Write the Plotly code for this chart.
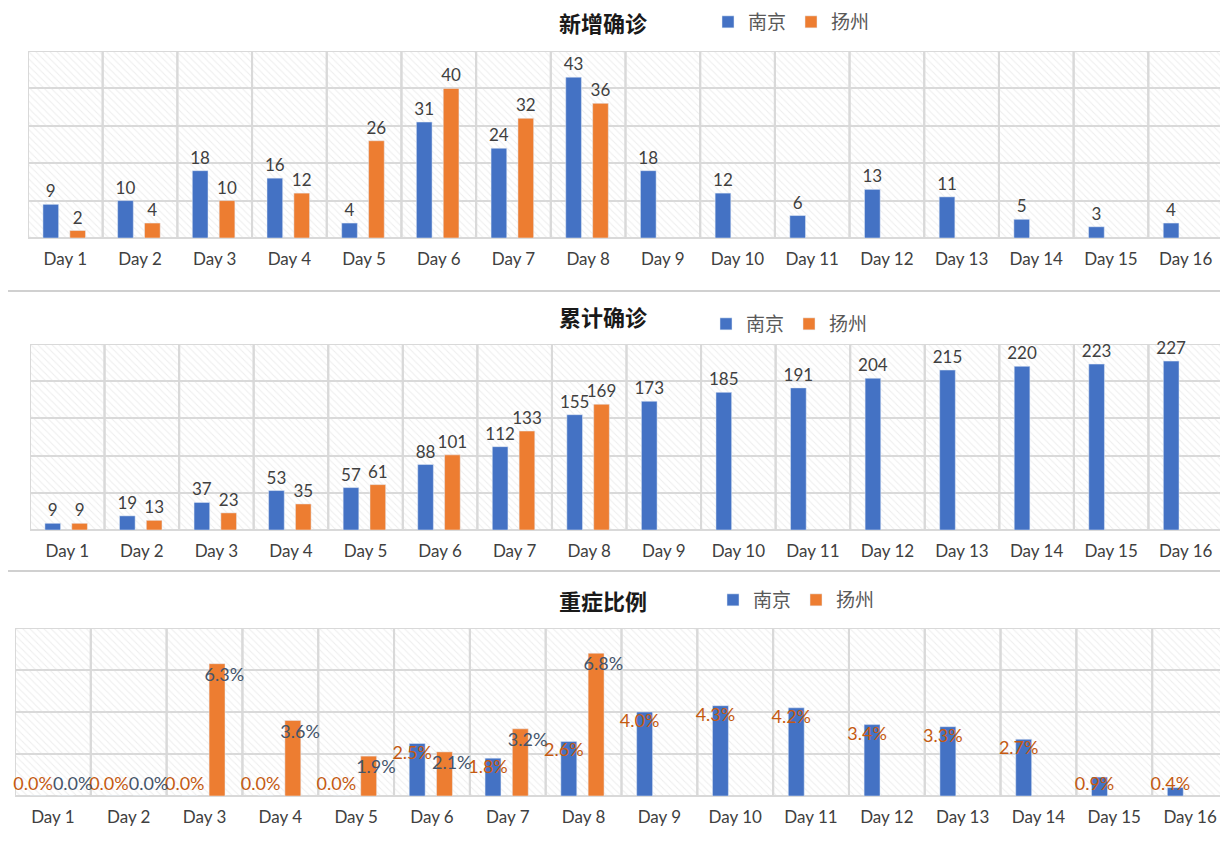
import plotly.graph_objects as go

days = [f"Day {i}" for i in range(1, 17)]
new_nj = [9, 10, 18, 16, 4, 31, 24, 43, 18, 12, 6, 13, 11, 5, 3, 4]
new_yz = [2, 4, 10, 12, 26, 40, 32, 36]
cum_nj = [9, 19, 37, 53, 57, 88, 112, 155, 173, 185, 191, 204, 215, 220, 223, 227]
cum_yz = [9, 13, 23, 35, 61, 101, 133, 169]
sev_nj = [0.0, 0.0, 0.0, 0.0, 0.0, 2.5, 1.8, 2.6, 4.0, 4.3, 4.2, 3.4, 3.3, 2.7, 0.9, 0.4]
sev_yz = [0.0, 0.0, 6.3, 3.6, 1.9, 2.1, 3.2, 6.8]
titles = ["新增确诊", "累计确诊", "重症比例"]
ranges = [50, 250, 8]
dticks = [10, 50, 2]

BLUE = "#4472c4"; ORANGE = "#ed7d31"; TXT = "#404040"
FONT = "Lato"
W, H = 1228, 845
doms = [(43, 230), (336, 522), (620, 788)]
xdoms = [(20, 1215), (22, 1215), (7, 1220)]
title_mid = [14, 308, 592]
leg_y = [14, 316, 592]
leg_x = [700, 698, 705]

fig = go.Figure()
layout = dict(width=W, height=H, margin=dict(l=0, r=0, t=0, b=0, autoexpand=False),
              paper_bgcolor="white", plot_bgcolor="white", barmode="overlay",
              font=dict(family=FONT, color=TXT), annotations=[], shapes=[])

panels = [(new_nj, new_yz), (cum_nj, cum_yz), (sev_nj, sev_yz)]
for i, (nj, yz) in enumerate(panels):
    k = i + 1
    xa = "x" if k == 1 else f"x{k}"
    ya = "y" if k == 1 else f"y{k}"
    lg = "legend" if k == 1 else f"legend{k}"
    top, bot = doms[i]
    layout[f"xaxis{'' if k == 1 else k}"] = dict(
        domain=[xdoms[i][0] / W, xdoms[i][1] / W], anchor=ya, type="category", showgrid=False,
        range=[-0.5, 15.5], tickfont=dict(size=17, color=TXT), ticks="outside",
        tickcolor="rgba(0,0,0,0)", ticklen=6, showline=False, fixedrange=True,
        automargin=False)
    layout[f"yaxis{'' if k == 1 else k}"] = dict(
        domain=[(H - bot) / H, (H - top) / H], anchor=xa, range=[0, ranges[i]],
        dtick=dticks[i], showticklabels=False, gridcolor="#d9d9d9", gridwidth=2,
        zeroline=True, zerolinecolor="#d9d9d9", zerolinewidth=2, ticks="",
        fixedrange=True, automargin=False)
    fig.add_trace(go.Bar(x=days, y=[ranges[i]] * 16, width=1, offset=-0.5,
                         marker=dict(color="rgba(0,0,0,0)", line=dict(color="#d9d9d9", width=2),
                                     pattern=dict(shape="\\", fgcolor="#dcdcdc", bgcolor="rgba(0,0,0,0)",
                                                  size=5, solidity=0.2)),
                         hoverinfo="skip", showlegend=False, xaxis=xa, yaxis=ya))
    if i < 2:
        fig.add_trace(go.Bar(x=days, y=nj, name="南京", width=0.21, offset=-0.3,
                             marker_color=BLUE, text=nj, textposition="outside", cliponaxis=False,
                             constraintext="none",
                             textfont=dict(size=17, color=TXT), xaxis=xa, yaxis=ya, legend=lg))
        fig.add_trace(go.Bar(x=days[:len(yz)], y=yz, name="扬州", width=0.21, offset=0.06,
                             marker_color=ORANGE, text=yz, textposition="outside", cliponaxis=False,
                             constraintext="none",
                             textfont=dict(size=17, color=TXT), xaxis=xa, yaxis=ya, legend=lg))
    else:
        fig.add_trace(go.Bar(x=days, y=nj, name="南京", width=0.21, offset=-0.3,
                             marker_color=BLUE, xaxis=xa, yaxis=ya, legend=lg))
        fig.add_trace(go.Bar(x=days[:len(yz)], y=yz, name="扬州", width=0.21, offset=0.06,
                             marker_color=ORANGE, xaxis=xa, yaxis=ya, legend=lg))
        fig.add_trace(go.Scatter(x=days, y=[max(v - 0.5, 0.5) for v in nj], mode="text",
                                 text=[f"{v:.1f}%" for v in nj], textposition="middle left",
                                 textfont=dict(size=18, color="#c55a11"), showlegend=False,
                                 hoverinfo="skip", xaxis=xa, yaxis=ya, cliponaxis=False))
        fig.add_trace(go.Scatter(x=days[:len(yz)], y=[max(v - 0.6, 0.5) for v in yz], mode="text",
                                 text=[f"{v:.1f}%" for v in yz], textposition="middle right",
                                 textfont=dict(size=18, color="#44546a"), showlegend=False,
                                 hoverinfo="skip", xaxis=xa, yaxis=ya, cliponaxis=False))
    layout["annotations"].append(dict(text=f"<b>{titles[i]}</b>", x=595 / W, y=1 - title_mid[i] / H,
                                      xref="paper", yref="paper", showarrow=False,
                                      xanchor="center", yanchor="middle", yshift=0,
                                      font=dict(size=22, color="#1a1a1a", family="Noto Sans CJK SC")))
    layout[lg] = dict(orientation="h", x=leg_x[i] / W, y=1 - leg_y[i] / H, xanchor="left",
                      yanchor="middle", bgcolor="rgba(0,0,0,0)",
                      font=dict(size=19, color="#595959", family="Noto Sans CJK SC"),
                      itemwidth=30, tracegroupgap=0)

for yy in [283, 563]:
    layout["shapes"].append(dict(type="line", xref="paper", yref="paper", x0=0, x1=1,
                                 y0=1 - yy / H, y1=1 - yy / H, line=dict(color="#d0d0d0", width=2)))

fig.update_layout(**layout)
fig.write_html("out.html")
